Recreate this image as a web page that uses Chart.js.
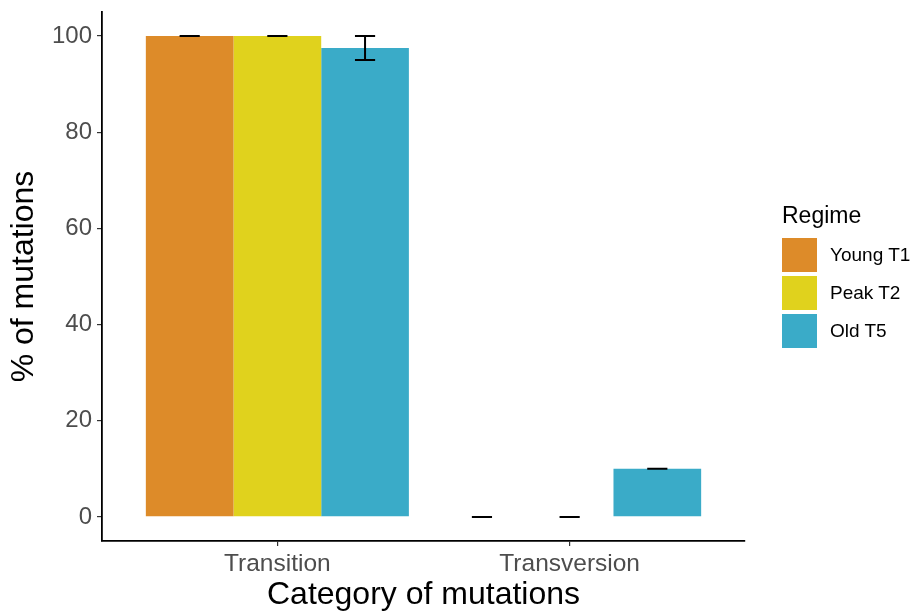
<!DOCTYPE html>
<html>
<head>
<meta charset="utf-8">
<script src="https://cdn.jsdelivr.net/npm/chart.js@4"></script>
<style>
  body { margin: 0; background: #fff; font-family: "Liberation Sans", Arial, sans-serif; }
  #wrap { position: relative; width: 912px; height: 611px; }
  #legend { position: absolute; left: 782px; top: 202px; }
  #legend .title { font-size: 23px; line-height: 27px; color: #000; margin-bottom: 7px; }
  #legend .item { display: flex; align-items: center; height: 38px; }
  #legend .key { width: 35px; height: 34px; margin-right: 13px; }
  #legend .lab { font-size: 19px; color: #000; white-space: nowrap; }
</style>
</head>
<body>
<div id="wrap">
  <canvas id="myChart" width="912" height="611"></canvas>
  <div id="legend"></div>
</div>
<script>
// Data
const categories = ['Transition', 'Transversion'];
const regimes = ['Young T1', 'Peak T2', 'Old T5'];
const colors = ['#DD8B29', '#E0D21D', '#3AABC8'];
const youngT1 = [100, 0];
const peakT2 = [100, 0];
const oldT5 = [97.5, 10];
const youngErr = [0, 0];
const peakErr = [0, 0];
const oldErr = [2.5, 0];
const yTicks = [0, 20, 40, 60, 80, 100];

const values = [youngT1, peakT2, oldT5];
const errors = [youngErr, peakErr, oldErr];

const fontFamily = '"Liberation Sans", Arial, sans-serif';

// Legend
const legend = document.getElementById('legend');
legend.innerHTML = '<div class="title">Regime</div>' + regimes.map((r, i) =>
    '<div class="item"><div class="key" style="background:' + colors[i] + '"></div><span class="lab">' + r + '</span></div>'
).join('');

// Error bars drawn over the bars
const errorBars = {
    id: 'errorBars',
    afterDatasetsDraw(chart) {
        const ctx = chart.ctx;
        const y = chart.scales.y;
        ctx.save();
        ctx.strokeStyle = '#000';
        ctx.lineWidth = 2;
        chart.data.datasets.forEach((ds, i) => {
            const meta = chart.getDatasetMeta(i);
            meta.data.forEach((bar, j) => {
                const v = ds.data[j].y;
                const e = ds.errors[j];
                const half = bar.width * 0.115;
                const top = y.getPixelForValue(v + e);
                const bot = y.getPixelForValue(v - e);
                ctx.beginPath();
                ctx.moveTo(bar.x - half, top); ctx.lineTo(bar.x + half, top);
                ctx.moveTo(bar.x - half, bot); ctx.lineTo(bar.x + half, bot);
                ctx.moveTo(bar.x, top); ctx.lineTo(bar.x, bot);
                ctx.stroke();
            });
        });
        ctx.restore();
    }
};

const ctx = document.getElementById('myChart').getContext('2d');
const myChart = new Chart(ctx, {
    type: 'bar',
    data: {
        datasets: regimes.map((r, i) => ({
            label: r,
            data: categories.map((c, j) => ({ x: j + 1, y: values[i][j] })),
            errors: errors[i],
            backgroundColor: colors[i],
            borderWidth: 0
        }))
    },
    options: {
        responsive: false,
        animation: false,
        layout: { padding: { left: 0, right: 167, top: 12, bottom: 0 } },
        datasets: { bar: { categoryPercentage: 0.9, barPercentage: 1 } },
        plugins: { legend: { display: false }, tooltip: { enabled: false } },
        scales: {
            x: {
                type: 'linear',
                min: 0.4,
                max: 2.6,
                offset: false,
                grid: { display: true, offset: false, drawOnChartArea: false, drawTicks: true, tickLength: 5, tickColor: '#333', lineWidth: 1.2 },
                border: { display: true, color: '#000', width: 1.8 },
                afterBuildTicks: (scale) => { scale.ticks = categories.map((c, j) => ({ value: j + 1 })); },
                afterFit: (scale) => { scale.height = 70; scale.paddingLeft = 0; scale.paddingRight = 0; },
                ticks: {
                    autoSkip: false,
                    maxRotation: 0,
                    padding: 4,
                    color: '#4D4D4D',
                    font: { family: fontFamily, size: 24.5 },
                    callback: (v, idx) => categories[idx]
                },
                title: {
                    display: true,
                    text: 'Category of mutations',
                    color: '#000',
                    font: { family: fontFamily, size: 32 },
                    padding: { top: 0, bottom: -3 }
                }
            },
            y: {
                min: -5,
                max: 105,
                grid: { display: true, drawOnChartArea: false, drawTicks: true, tickLength: 5, tickColor: '#333', lineWidth: 1.2 },
                border: { display: true, color: '#000', width: 1.8 },
                afterBuildTicks: (scale) => { scale.ticks = yTicks.map(v => ({ value: v })); },
                afterFit: (scale) => { scale.width = 102; scale.paddingTop = 0; scale.paddingBottom = 0; },
                ticks: {
                    padding: 5,
                    color: '#4D4D4D',
                    font: { family: fontFamily, size: 24 }
                },
                title: {
                    display: true,
                    text: '% of mutations',
                    color: '#000',
                    font: { family: fontFamily, size: 32 },
                    padding: { top: 5, bottom: 0 }
                }
            }
        }
    },
    plugins: [errorBars]
});
</script>
</body>
</html>
